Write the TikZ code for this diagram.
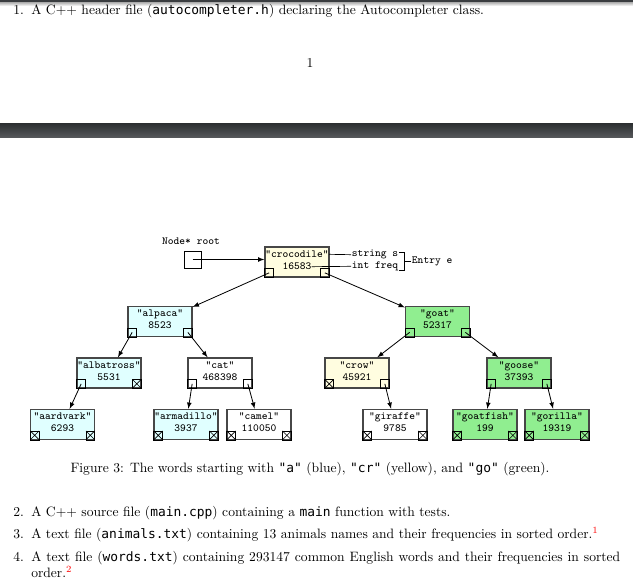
\documentclass[tikz,border=0pt]{standalone}
\usepackage{fontspec}
\usepackage{tikz}
\usetikzlibrary{calc}

\newfontfamily\codefont{DejaVu Sans Mono}[Scale=0.95]
\newcommand{\code}[1]{{\codefont #1}}

\definecolor{barshade}{HTML}{3A3D40}
\definecolor{abox}{RGB}{224,255,255}
\definecolor{crbox}{RGB}{255,253,224}
\definecolor{gobox}{RGB}{144,238,144}

\tikzset{
  entry/.style={draw=black!72, line width=1.1pt, minimum width=47pt, minimum height=22pt, inner sep=0pt},
  word/.style={font=\footnotesize\ttfamily, inner sep=0pt, text height=5.5pt, text depth=1.5pt},
  ptr/.style={draw, line width=0.5pt, minimum size=6.6pt, inner sep=0pt},
  nil/.style={ptr, path picture={
      \draw[line width=0.5pt] (path picture bounding box.south west) -- (path picture bounding box.north east)
                              (path picture bounding box.north west) -- (path picture bounding box.south east);}},
  link/.style={-latex, line width=0.6pt},
  lbl/.style={font=\footnotesize\ttfamily, inner sep=0.5pt},
  body/.style={anchor=base west, inner sep=0pt},
}

\begin{document}
\begin{tikzpicture}[x=0.736pt, y=-0.736pt]
    \useasboundingbox (0,0) rectangle (633,584);
    \fill[white] (0,0) rectangle (633,584);

    % --- page edges ---
    \fill[barshade] (0,0) rectangle (633,3);
    \shade[top color=black!25, bottom color=white] (0,3) rectangle (633,6);
    \shade[top color=barshade!80!black, bottom color=barshade!85!white] (0,124) rectangle (633,138);

    % --- end of page 1 ---
    \node[body] (n1) at (13,14.5) {1.};
    \node[body] (t1) at (31,14.5) {A C++ header file (\code{autocompleter.h}) declaring the Autocompleter class.};
    \node (pg) at (310,63) {1};

    % --- the tree ---
    \foreach \name/\pos/\col/\word/\freq/\lp/\rp in {
        croc/{297,262}/crbox/crocodile/16583/ptr/ptr,
        alpaca/{160,321.5}/abox/alpaca/8523/ptr/ptr,
        goat/{437.5,321.5}/gobox/goat/52317/ptr/ptr,
        albatross/{109,373}/abox/albatross/5531/ptr/nil,
        cat/{220,373}/white/cat/468398/ptr/ptr,
        crow/{357,373}/crbox/crow/45921/nil/ptr,
        goose/{519,373}/gobox/goose/37393/ptr/ptr,
        aardvark/{62.5,424.5}/abox/aardvark/6293/nil/nil,
        armadillo/{186,424.5}/abox/armadillo/3937/nil/nil,
        camel/{259,424.5}/white/camel/110050/nil/nil,
        giraffe/{395,424.5}/white/giraffe/9785/nil/nil,
        goatfish/{485,424.5}/gobox/goatfish/199/nil/nil,
        gorilla/{557,424.5}/gobox/gorilla/19319/nil/nil}{
        \node[entry, fill=\col] (\name) at (\pos) {};
        \node[word] (\name-w) at ($(\name.north)+(0,8)$) {"\word"};
        \node[word] (\name-f) at ($(\name.south)+(0,-11)$) {\freq};
        \node[\lp, anchor=south west] (\name-l) at (\name.south west) {};
        \node[\rp, anchor=south east] (\name-r) at (\name.south east) {};
    }

    \foreach \from/\to in {croc-l/alpaca, croc-r/goat, alpaca-l/albatross, alpaca-r/cat,
        goat-l/crow, goat-r/goose, albatross-l/aardvark, cat-l/armadillo, cat-r/camel,
        crow-r/giraffe, goose-l/goatfish, goose-r/gorilla}
        \draw[link] (\from.center) -- (\to);

    % root pointer
    \node[lbl] (rootlbl) at (191,241) {Node* root};
    \node[draw, line width=0.6pt, minimum size=12.5pt, inner sep=0pt] (root) at (192.5,259.5) {};
    \draw[link] (root.center) -- (root.center -| croc.west);

    % entry fields
    \node[lbl, anchor=west] (strs) at (351,254.7) {string s};
    \node[lbl, anchor=west] (intf) at (351,266.3) {int freq};
    \draw[line width=0.5pt] (croc-w.east) -- (strs.west);
    \draw[line width=0.5pt] (croc-f.east) -- (intf.west);
    \node[lbl, anchor=west] (entrye) at (411,261.5) {Entry e};
    \draw[line width=0.5pt] ($(strs.east)+(0,-2.5)$) -- ++(5,0) coordinate (bt) |- ($(intf.east)+(0,4.5)$);
    \draw[line width=0.5pt] (bt |- entrye.west) -- (entrye.west);

    % --- caption and list on page 2 ---
    \node[anchor=base, inner sep=0pt] (cap) at (310,472) {Figure 3: The words starting with \code{"a"} (blue), \code{"cr"} (yellow), and \code{"go"} (green).};
    \node[body] (n2) at (13,516.5) {2.};
    \node[body] (t2) at (31,516.5) {A C++ source file (\code{main.cpp}) containing a \code{main} function with tests.};
    \node[body] (n3) at (13,538.5) {3.};
    \node[body] (t3) at (31,538.5) {A text file (\code{animals.txt}) containing 13 animals names and their frequencies in sorted order.\textsuperscript{\color{red}1}};
    \node[body] (n4) at (13,561) {4.};
    \node[body] (t4) at (31,561) {\makebox[433.5pt][s]{A text file (\code{words.txt}) containing 293147 common English words and their frequencies in sorted}};
    \node[body] (t4b) at (31,577) {order.\textsuperscript{\color{red}2}};
\end{tikzpicture}
\end{document}
